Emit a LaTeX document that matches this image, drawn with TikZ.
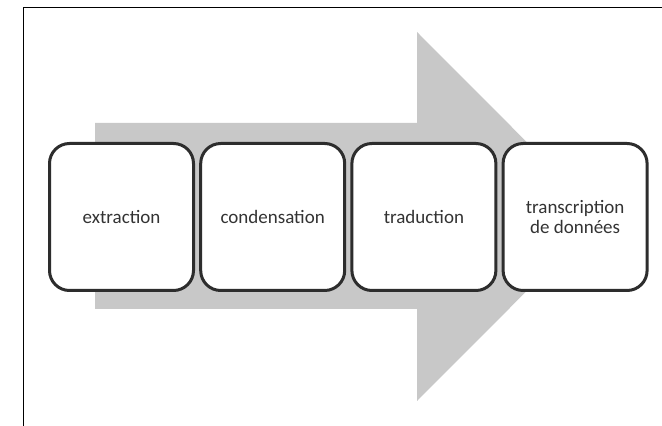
\documentclass[tikz,border=0pt]{standalone}
\usepackage{fontspec}
\setmainfont{Carlito}
\usetikzlibrary{positioning}
\definecolor{flechegris}{RGB}{200,200,200}
\definecolor{bordgris}{RGB}{45,45,45}
\tikzset{etape/.style={draw=bordgris,line width=3pt,rounded corners=20pt,fill=white,
    minimum width=144pt,minimum height=147pt,align=center,text=black!80,
    font=\fontsize{19}{20}\selectfont}}

\begin{document}
\begin{tikzpicture}[x=1pt,y=1pt,node distance=4.2pt]
	\useasboundingbox (0,0) rectangle (662,426);
	\fill[white] (0,0) rectangle (662,426);
	
	% cadre
	\draw[black,line width=1pt] (23,0)--(23,418)--(662,418);
	
	% fleche de fond
	\fill[flechegris] (95,117)--(95,303)--(417,303)--(417,394)--(601,209.5)--(417,25)--(417,117)--cycle;
	
	% etapes
	\node[etape] (extr) at (121.5,209) {extraction};
	\node[etape,right=of extr] (cond) {condensation};
	\node[etape,right=of cond] (trad) {traduction};
	\node[etape,right=of trad] (transc) {transcription\\de données};
	
\end{tikzpicture}
\end{document}
